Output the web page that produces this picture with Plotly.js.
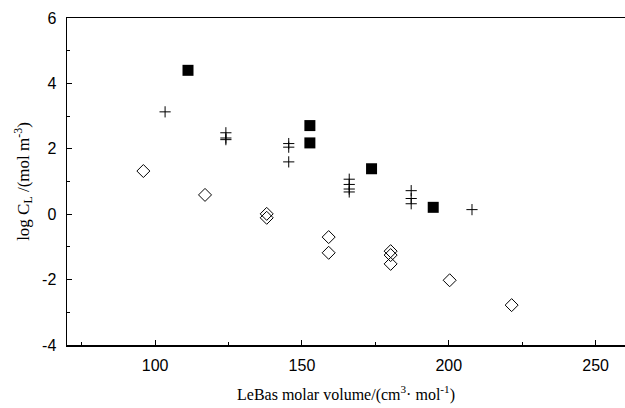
<!DOCTYPE html>
<html>
<head>
<meta charset="utf-8">
<script src="https://cdn.plot.ly/plotly-3.0.1.min.js"></script>
<style>html,body{margin:0;padding:0;background:#fff;}#chart{width:625px;height:408px;}</style>
</head>
<body>
<div id="chart"></div>
<script>
// Filled squares
var squareX = [111.2, 152.7, 152.7, 173.7, 194.7];
var squareY = [4.40, 2.71, 2.18, 1.39, 0.21];
// Crosses
var crossX = [103.4, 124.1, 124.1, 124.1, 145.5, 145.5, 145.5, 166.1, 166.1, 166.1, 166.1, 187.2, 187.2, 187.2, 207.9];
var crossY = [3.13, 2.49, 2.33, 2.28, 2.16, 2.05, 1.60, 1.07, 0.91, 0.77, 0.68, 0.72, 0.48, 0.32, 0.14];
// Open diamonds
var diamondX = [96.0, 117.0, 138.0, 138.0, 159.1, 159.1, 180.2, 180.2, 180.2, 200.3, 221.4];
var diamondY = [1.32, 0.59, 0.01, -0.11, -0.70, -1.18, -1.13, -1.25, -1.52, -2.02, -2.78];

var xTickVals = [100, 150, 200, 250];
var yTickVals = [-4, -2, 0, 2, 4, 6];

var traces = [
  {x: diamondX, y: diamondY, type: 'scatter', mode: 'markers',
   marker: {symbol: 'diamond-open', size: 10, color: '#000', line: {width: 1, color: '#000'}}},
  {x: crossX, y: crossY, type: 'scatter', mode: 'markers',
   marker: {symbol: 'cross-thin-open', size: 8, color: '#000', line: {width: 1, color: '#000'}}},
  {x: squareX, y: squareY, type: 'scatter', mode: 'markers',
   marker: {symbol: 'square', size: 11, color: '#000', line: {width: 0}}}
];

var layout = {
  width: 625, height: 408,
  margin: {l: 67, r: 0, t: 18, b: 63},
  paper_bgcolor: '#fff', plot_bgcolor: '#fff',
  showlegend: false,
  xaxis: {
    range: [70, 260], showgrid: false, zeroline: false,
    showline: true, linecolor: '#000', linewidth: 1.5, mirror: true,
    ticks: 'inside', ticklen: 5, tickwidth: 1, tickcolor: '#000',
    tickvals: xTickVals, ticktext: xTickVals.map(String),
    minor: {dtick: 25, tick0: 0, ticks: 'inside', ticklen: 3, tickcolor: '#000', showgrid: false},
    tickfont: {family: 'Liberation Sans, Arial, sans-serif', size: 16, color: '#000'},
    ticklabelstandoff: 5,
    title: {text: 'LeBas molar volume/(cm<sup>3</sup>· mol<sup>-1</sup>)', standoff: 16,
            font: {family: 'Liberation Serif, Times New Roman, serif', size: 16, color: '#000'}}
  },
  yaxis: {
    range: [-4, 6], showgrid: false, zeroline: false,
    showline: true, linecolor: '#000', linewidth: 1.5,
    ticks: 'inside', ticklen: 5, tickwidth: 1, tickcolor: '#000',
    tickvals: yTickVals, ticktext: yTickVals.map(String),
    minor: {dtick: 1, tick0: 0, ticks: 'inside', ticklen: 3, tickcolor: '#000', showgrid: false},
    tickfont: {family: 'Liberation Sans, Arial, sans-serif', size: 16, color: '#000'},
    ticklabelstandoff: 6,
    title: {text: 'log C<sub>L</sub> /(mol m<sup>-3</sup>)', standoff: 8,
            font: {family: 'Liberation Serif, Times New Roman, serif', size: 17, color: '#000'}}
  }
};

Plotly.newPlot('chart', traces, layout, {displayModeBar: false, staticPlot: true});
</script>
</body>
</html>
